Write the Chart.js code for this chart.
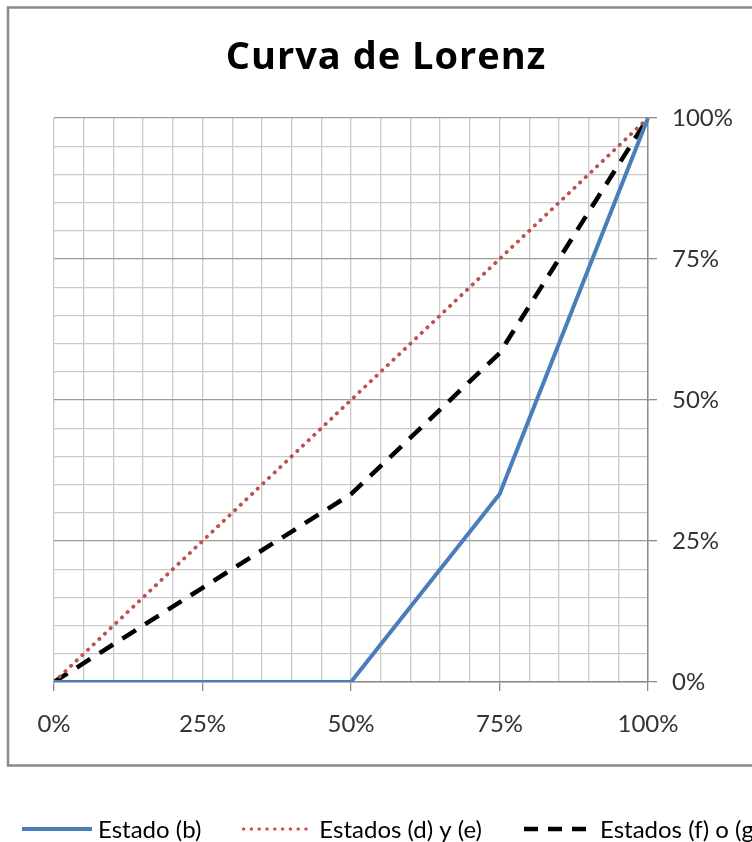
<!DOCTYPE html>
<html>
<head>
<meta charset="utf-8">
<script src="https://cdn.jsdelivr.net/npm/chart.js@4.4.1/dist/chart.umd.min.js"></script>
<style>
  html, body { margin: 0; padding: 0; background: #ffffff; overflow: hidden; }
  canvas { display: block; }
</style>
</head>
<body>
<canvas id="lorenz" width="752" height="842"></canvas>
<script>
// Cumulative share of population (x, %) and of income (y, %)
const populationShare = [0, 25, 50, 75, 100];
const estadoB = [0, 0, 0, 33.3, 100];
const estadosDE = [0, 25, 50, 75, 100];
const estadosFG = [0, 16.7, 33.3, 58.3, 100];
const seriesNames = ['Estado (b)', 'Estados (d) y (e)', 'Estados (f) o (g)'];
const chartTitle = 'Curva de Lorenz';
const majorTicks = [0, 25, 50, 75, 100];

const toPoints = ys => populationShare.map((x, i) => ({ x: x, y: ys[i] }));
const isMajor = v => majorTicks.includes(Math.round(v));

const FONT = 'Lato, "DejaVu Sans", sans-serif';
const TITLE_FONT = '"Open Sans", Lato, sans-serif';

// Card background, outer frame and the centred title
const framePlugin = {
  id: 'frame',
  beforeDraw(chart) {
    const ctx = chart.ctx;
    ctx.save();
    ctx.fillStyle = '#ffffff';
    ctx.fillRect(0, 0, chart.width, chart.height);
    ctx.strokeStyle = '#8a8a8a';
    ctx.lineWidth = 2.5;
    ctx.strokeRect(8, 7.5, chart.width + 20, 758);
    ctx.fillStyle = '#000000';
    ctx.font = 'bold 38px ' + TITLE_FONT;
    if ('letterSpacing' in ctx) ctx.letterSpacing = '1px';
    ctx.textAlign = 'center';
    ctx.textBaseline = 'alphabetic';
    ctx.fillText(chartTitle, 386, 69);
    ctx.restore();
  }
};

// Legend row under the frame: a line sample followed by the series name
const lineLegendPlugin = {
  id: 'lineLegend',
  afterDraw(chart) {
    const ctx = chart.ctx;
    const y = 829;
    let x = 22;
    ctx.save();
    ctx.font = '24px ' + FONT;
    ctx.textBaseline = 'middle';
    ctx.textAlign = 'left';
    chart.data.datasets.forEach(ds => {
      const sample = 70;
      ctx.save();
      ctx.strokeStyle = ds.borderColor;
      ctx.lineWidth = ds.legendWidth;
      ctx.lineCap = ds.borderCapStyle || 'butt';
      ctx.setLineDash(ds.legendDash || []);
      ctx.beginPath();
      ctx.moveTo(x, y);
      ctx.lineTo(x + sample, y);
      ctx.stroke();
      ctx.restore();
      x += sample + 6;
      ctx.fillStyle = '#000000';
      ctx.fillText(ds.label, x, y + 1);
      x += ctx.measureText(ds.label).width + 42;
    });
    ctx.restore();
  }
};

new Chart(document.getElementById('lorenz'), {
  type: 'line',
  data: {
    datasets: [
      {
        label: seriesNames[0],
        data: toPoints(estadoB),
        borderColor: '#4a7ebb',
        borderWidth: 4,
        legendWidth: 4,
        borderJoinStyle: 'round',
        clip: { left: 4, top: 4, right: 4, bottom: 0 }
      },
      {
        label: seriesNames[1],
        data: toPoints(estadosDE),
        borderColor: '#c0504d',
        borderWidth: 3.8,
        legendWidth: 3,
        borderCapStyle: 'round',
        borderDash: [0.3, 7.5],
        legendDash: [0.5, 7.3]
      },
      {
        label: seriesNames[2],
        data: toPoints(estadosFG),
        borderColor: '#000000',
        borderWidth: 4.5,
        legendWidth: 4.5,
        borderCapStyle: 'butt',
        borderJoinStyle: 'round',
        borderDash: [16, 11],
        legendDash: [14, 10]
      }
    ]
  },
  options: {
    responsive: false,
    animation: false,
    devicePixelRatio: 1,
    elements: { point: { radius: 0, hoverRadius: 0 }, line: { tension: 0 } },
    layout: { padding: { left: 54, right: 0, top: 118, bottom: 0 } },
    plugins: {
      legend: { display: false },
      tooltip: { enabled: false },
      title: { display: false }
    },
    scales: {
      x: {
        type: 'linear',
        min: 0,
        max: 100,
        afterFit(scale) { scale.height = 160; },
        ticks: {
          stepSize: 5,
          autoSkip: false,
          maxRotation: 0,
          padding: 19,
          color: '#333333',
          font: { family: FONT, size: 24 },
          callback: v => isMajor(v) ? v + '%' : ''
        },
        grid: {
          color: '#cacaca',
          lineWidth: 1.3,
          tickLength: 9,
          tickColor: c => (c.tick && isMajor(c.tick.value)) ? '#8c8c8c' : 'rgba(0,0,0,0)'
        },
        border: { color: '#8c8c8c', width: 1.5 }
      },
      y: {
        type: 'linear',
        position: 'right',
        min: 0,
        max: 100,
        afterFit(scale) { scale.width = 104; },
        ticks: {
          stepSize: 5,
          autoSkip: false,
          padding: 15,
          color: '#333333',
          font: { family: FONT, size: 24 },
          callback: v => isMajor(v) ? v + '%' : ''
        },
        grid: {
          color: c => (c.tick && isMajor(c.tick.value)) ? '#9c9c9c' : '#cacaca',
          lineWidth: 1.3,
          tickLength: 9,
          tickColor: c => (c.tick && isMajor(c.tick.value)) ? '#8c8c8c' : 'rgba(0,0,0,0)'
        },
        border: { color: '#8c8c8c', width: 1.5 }
      }
    }
  },
  plugins: [framePlugin, lineLegendPlugin]
});
</script>
</body>
</html>
